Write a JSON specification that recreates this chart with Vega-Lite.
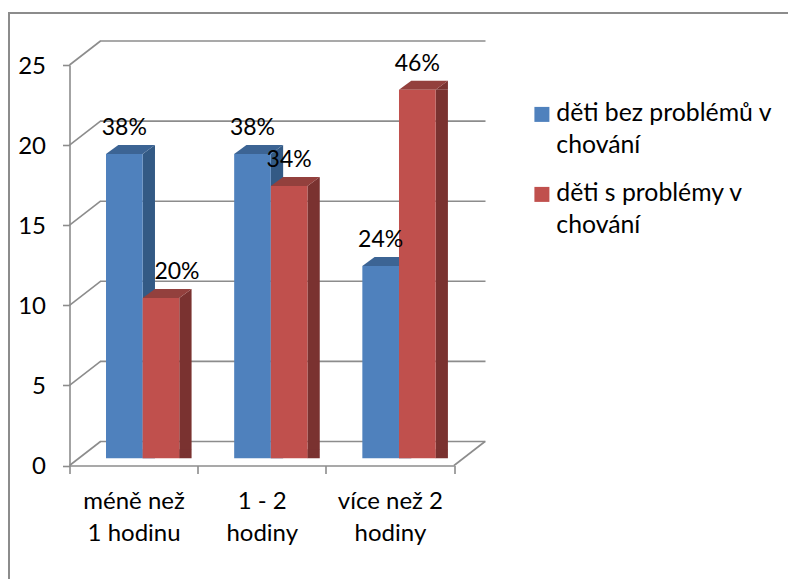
{
  "$schema": "https://vega.github.io/schema/vega-lite/v6.json",
  "width": 384.5,
  "height": 400.5,
  "autosize": {"type": "none"},
  "padding": {"left": 69.5, "top": 65, "right": 334, "bottom": 113.5},
  "background": "white",
  "config": {"view": {"stroke": null}, "text": {"font": "Lato"}},
  "datasets": {
    "hours": [
      {"hodiny": "méně než 1 hodinu", "skupina": "děti bez problémů v chování", "pocet": 19, "podil": "38%"},
      {"hodiny": "1 - 2 hodiny", "skupina": "děti bez problémů v chování", "pocet": 19, "podil": "38%"},
      {"hodiny": "více než 2 hodiny", "skupina": "děti bez problémů v chování", "pocet": 12, "podil": "24%"},
      {"hodiny": "méně než 1 hodinu", "skupina": "děti s problémy v chování", "pocet": 10, "podil": "20%"},
      {"hodiny": "1 - 2 hodiny", "skupina": "děti s problémy v chování", "pocet": 17, "podil": "34%"},
      {"hodiny": "více než 2 hodiny", "skupina": "děti s problémy v chování", "pocet": 23, "podil": "46%"}
    ],
    "levels": [{"v": 0}, {"v": 5}, {"v": 10}, {"v": 15}, {"v": 20}, {"v": 25}]
  },
  "data": {"name": "hours"},
  "encoding": {
    "x": {
      "field": "hodiny",
      "type": "nominal",
      "sort": ["méně než 1 hodinu", "1 - 2 hodiny", "více než 2 hodiny"],
      "scale": {"paddingInner": 0, "paddingOuter": 0},
      "axis": {
        "title": null,
        "labelAngle": 0,
        "labelFont": "Lato",
        "labelFontSize": 24,
        "labelColor": "#000000",
        "labelLineHeight": 32,
        "labelPadding": 16,
        "labelLimit": 300,
        "domainColor": "#8c8c8c",
        "domainWidth": 1.6,
        "tickColor": "#8c8c8c",
        "tickWidth": 1.6,
        "tickSize": 8,
        "tickBand": "extent",
        "labelExpr": "datum.label == 'méně než 1 hodinu' ? ['méně než', '1 hodinu'] : datum.label == '1 - 2 hodiny' ? ['1 - 2', 'hodiny'] : datum.label == 'více než 2 hodiny' ? ['více než 2', 'hodiny'] : ''"
      }
    }
  },
  "layer": [
    {
      "data": {"values": [{"v": 0}]},
      "mark": {"type": "rect", "fill": null, "stroke": "#8c8c8c", "strokeWidth": 2},
      "encoding": {"x": {"value": -60.5}, "x2": {"value": 760}, "y": {"value": -52}, "y2": {"value": 560}}
    },
    {
      "data": {"name": "levels"},
      "mark": {"type": "rule", "color": "#8c8c8c", "strokeWidth": 1.6, "yOffset": -24},
      "encoding": {"x": {"value": 30.5}, "x2": {"value": 416}, "y": {"field": "v", "type": "quantitative", "scale": {"domain": [0, 25], "nice": false}, "axis": {
        "title": null, "values": [0, 5, 10, 15, 20, 25], "grid": false,
        "labelFont": "Lato", "labelFontSize": 24, "labelColor": "#000000", "labelPadding": 17, "labelOffset": 1,
        "domainColor": "#8c8c8c", "domainWidth": 1.6, "tickColor": "#8c8c8c", "tickWidth": 1.6, "tickSize": 7
      }}}
    },
    {
      "data": {"name": "levels"},
      "mark": {"type": "point", "shape": "M0,0L31,-24", "size": 4, "filled": false, "stroke": "#8c8c8c", "strokeWidth": 1.6, "opacity": 1},
      "encoding": {"x": {"value": 0}, "y": {"field": "v", "type": "quantitative"}}
    },
    {
      "data": {"values": [{"v": 0}]},
      "mark": {"type": "point", "shape": "M0,0L31,-24", "size": 4, "filled": false, "stroke": "#8c8c8c", "strokeWidth": 1.6, "opacity": 1},
      "encoding": {"x": {"value": 384.5}, "y": {"field": "v", "type": "quantitative"}}
    },
    {
      "transform": [{"filter": "datum.skupina == 'děti bez problémů v chování'"}],
      "layer": [
        {"mark": {"type": "bar", "width": 12.3, "xOffset": 15.25, "yOffset": -7.2, "y2Offset": -16.2, "color": "#335a85"},
         "encoding": {"y": {"field": "pocet", "type": "quantitative"}}},
        {"mark": {"type": "point", "shape": "M0,0L12.3,-9L12.3,0Z", "size": 4, "filled": true, "opacity": 1, "color": "#335a85", "xOffset": 9.1, "yOffset": -7.2},
         "encoding": {"y": {"field": "pocet", "type": "quantitative"}}},
        {"mark": {"type": "point", "shape": "M0,0L12.3,-9L0,-9Z", "size": 4, "filled": true, "opacity": 1, "color": "#335a85", "xOffset": 9.1, "yOffset": -7.2},
         "encoding": {"y": {"datum": 0, "type": "quantitative"}}},
        {"mark": {"type": "point", "shape": "M0,0L12.3,-9L49,-9L36.65,0Z", "size": 4, "filled": true, "opacity": 1, "color": "#3c6494", "xOffset": -27.6, "yOffset": -7.2},
         "encoding": {"y": {"field": "pocet", "type": "quantitative"}}},
        {"mark": {"type": "bar", "width": 36.65, "xOffset": -9.25, "yOffset": -7.2, "y2Offset": -7.2},
         "encoding": {"y": {"field": "pocet", "type": "quantitative"},
           "color": {"field": "skupina", "type": "nominal", "scale": {"domain": ["děti bez problémů v chování", "děti s problémy v chování"], "range": ["#4f81bd", "#c0504d"]},
             "legend": {"title": null, "orient": "none", "legendX": 460, "legendY": 37, "symbolType": "square", "symbolSize": 225, "labelFont": "Lato", "labelFontSize": 24.8, "labelColor": "#000000", "labelLimit": 300, "rowPadding": 22, "labelOffset": 2, "symbolStrokeWidth": 0,
               "encoding": {"labels": {"lineHeight": {"value": 32}}},
               "labelExpr": "datum.label == 'děti bez problémů v chování' ? ['děti bez problémů v', 'chování'] : ['děti s problémy v', 'chování']"}}}}
      ]
    },
    {
      "transform": [{"filter": "datum.skupina == 'děti s problémy v chování'"}],
      "layer": [
        {"mark": {"type": "bar", "width": 12.3, "xOffset": 51.85, "yOffset": -7.2, "y2Offset": -16.2, "color": "#7a3230"},
         "encoding": {"y": {"field": "pocet", "type": "quantitative"}}},
        {"mark": {"type": "point", "shape": "M0,0L12.3,-9L12.3,0Z", "size": 4, "filled": true, "opacity": 1, "color": "#7a3230", "xOffset": 45.7, "yOffset": -7.2},
         "encoding": {"y": {"field": "pocet", "type": "quantitative"}}},
        {"mark": {"type": "point", "shape": "M0,0L12.3,-9L0,-9Z", "size": 4, "filled": true, "opacity": 1, "color": "#7a3230", "xOffset": 45.7, "yOffset": -7.2},
         "encoding": {"y": {"datum": 0, "type": "quantitative"}}},
        {"mark": {"type": "point", "shape": "M0,0L12.3,-9L49,-9L36.65,0Z", "size": 4, "filled": true, "opacity": 1, "color": "#93403d", "xOffset": 9.05, "yOffset": -7.2},
         "encoding": {"y": {"field": "pocet", "type": "quantitative"}}},
        {"mark": {"type": "bar", "width": 36.65, "xOffset": 27.4, "yOffset": -7.2, "y2Offset": -7.2},
         "encoding": {"y": {"field": "pocet", "type": "quantitative"}, "color": {"field": "skupina", "type": "nominal"}}}
      ]
    },
    {
      "transform": [{"filter": "datum.skupina == 'děti bez problémů v chování'"}],
      "mark": {"type": "text", "fontSize": 23, "color": "#000000", "xOffset": -9.25, "yOffset": -33},
      "encoding": {"y": {"field": "pocet", "type": "quantitative"}, "text": {"field": "podil"}}
    },
    {
      "transform": [{"filter": "datum.skupina == 'děti s problémy v chování' && datum.pocet > 10"}],
      "mark": {"type": "text", "fontSize": 23, "color": "#000000", "xOffset": 27.4, "yOffset": -33},
      "encoding": {"y": {"field": "pocet", "type": "quantitative"}, "text": {"field": "podil"}}
    },
    {
      "transform": [{"filter": "datum.skupina == 'děti s problémy v chování' && datum.pocet == 10"}],
      "mark": {"type": "text", "fontSize": 23, "color": "#000000", "xOffset": 43.4, "yOffset": -33},
      "encoding": {"y": {"field": "pocet", "type": "quantitative"}, "text": {"field": "podil"}}
    }
  ]
}
